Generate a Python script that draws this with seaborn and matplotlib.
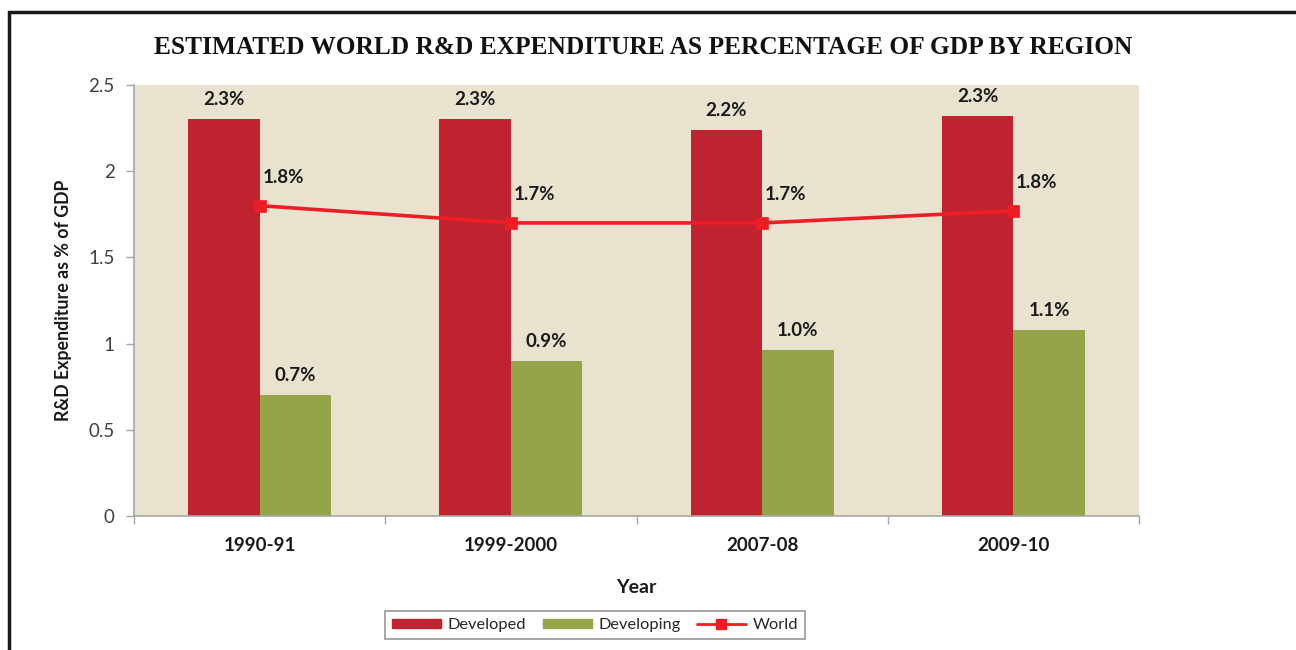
import matplotlib
matplotlib.use("Agg")
import matplotlib.pyplot as plt
import matplotlib.patches as mpatches
from matplotlib.lines import Line2D
import numpy as np
import pandas as pd
import seaborn as sns

# Data
years = ["1990-91", "1999-2000", "2007-08", "2009-10"]
developed = [2.30, 2.30, 2.24, 2.32]
developing = [0.70, 0.90, 0.96, 1.08]
world = [1.80, 1.70, 1.70, 1.77]
y_ticks = [0, 0.5, 1, 1.5, 2, 2.5]
y_tick_labels = ["0", "0.5", "1", "1.5", "2", "2.5"]

title = "ESTIMATED WORLD R&D EXPENDITURE AS PERCENTAGE OF GDP BY REGION"

c_dev = "#C0222F"
c_devg = "#93A548"
c_world = "#EE1C25"
c_bg = "#E8E2CF"
c_axis = "#A6A6A6"

sns.set_theme(style="white")
plt.rcParams["font.family"] = ["Lato", "DejaVu Sans"]

bars = pd.DataFrame({
    "Year": years * 2,
    "Value": developed + developing,
    "Region": ["Developed"] * 4 + ["Developing"] * 4,
})

fig = plt.figure(figsize=(12.96, 6.5), dpi=100)
ax = fig.add_axes([134 / 1296, 1 - 516 / 650, 1005 / 1296, 431 / 650])
ax.set_facecolor(c_bg)

sns.barplot(data=bars, x="Year", y="Value", hue="Region", order=years,
            hue_order=["Developed", "Developing"],
            palette=[c_dev, c_devg], width=0.57, saturation=1,
            edgecolor="none", linewidth=0, ax=ax, legend=False)

sns.pointplot(x=years, y=world, color=c_world, markers="s", markersize=7.5,
              linewidth=2.6, ax=ax, order=years)

# Value labels
for cont in ax.containers[:2]:
    for rect in cont:
        h = rect.get_height()
        ax.annotate(f"{h:.1f}%", (rect.get_x() + rect.get_width() / 2, h),
                    xytext=(0, 8), textcoords="offset points",
                    ha="center", va="bottom", fontsize=13.5, fontweight="bold",
                    color="#1a1a1a")
for i, v in enumerate(world):
    ax.annotate(f"{v:.1f}%", (i, v), xytext=(2, 14), textcoords="offset points",
                ha="left", va="bottom", fontsize=13.5, fontweight="bold",
                color="#1a1a1a")

ax.set_xlim(-0.5, 3.5)
ax.set_ylim(0, 2.5)
ax.set_yticks(y_ticks)
ax.set_yticklabels(y_tick_labels, fontsize=13.5, color="#404040")
ax.set_xticks(range(len(years)))
ax.set_xticklabels(years, fontsize=13.5, fontweight="bold", color="#1a1a1a")
ax.set_xticks(np.arange(-0.5, 4, 1), minor=True)
ax.tick_params(axis="x", which="major", length=0, pad=15)
ax.tick_params(axis="x", which="minor", length=6, width=1, color=c_axis,
               direction="out", bottom=True)
ax.tick_params(axis="y", length=6, width=1, color=c_axis, direction="out",
               left=True, pad=8)

for s in ["top", "right"]:
    ax.spines[s].set_visible(False)
for s in ["left", "bottom"]:
    ax.spines[s].set_color(c_axis)
    ax.spines[s].set_linewidth(1.2)

ax.set_xlabel("Year", fontsize=14, fontweight="bold", color="#1a1a1a",
              labelpad=18)
ax.set_ylabel("R&D Expenditure as % of GDP", fontsize=12.8, fontweight="bold",
              color="#1a1a1a", labelpad=12)

fig.text(643 / 1296, 1 - 47 / 650, title, ha="center", va="center",
         fontsize=18.3, fontweight="bold", family="Liberation Serif",
         color="#111111")

handles = [
    mpatches.Patch(color=c_dev, label="Developed"),
    mpatches.Patch(color=c_devg, label="Developing"),
    Line2D([0], [0], color=c_world, lw=2, marker="s", markersize=6.5,
           label="World"),
]
leg = fig.legend(handles=handles, loc="center",
                 bbox_to_anchor=(595 / 1296, 1 - 625 / 650), ncol=3,
                 frameon=True, fancybox=False, fontsize=11.8,
                 handlelength=3.0, handleheight=0.5, columnspacing=1.0,
                 handletextpad=0.4, borderpad=0.45)
leg.get_frame().set_edgecolor("#7f7f7f")
leg.get_frame().set_linewidth(1.2)

# Outer frame around the chart
fig.patches.append(mpatches.Rectangle((9 / 1296, -0.2), 1.2, 1.2 - 12 / 650,
                                      transform=fig.transFigure, fill=False,
                                      edgecolor="#1a1a1a", linewidth=2.5,
                                      clip_on=False))

fig.savefig("out.png", dpi=100, facecolor="white")
